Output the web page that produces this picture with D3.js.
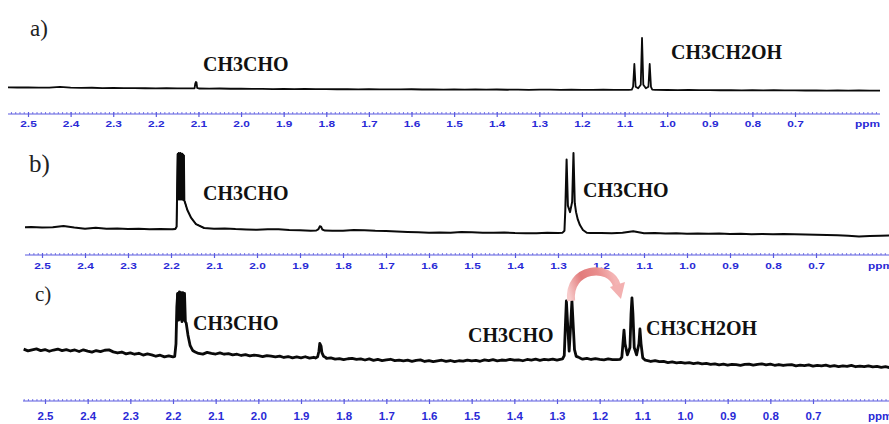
<!DOCTYPE html>
<html><head><meta charset="utf-8">
<script src="https://cdn.jsdelivr.net/npm/d3@7"></script>
<style>body{margin:0;background:#fff}svg{display:block}</style>
</head><body>
<svg id="chart" width="889" height="424"></svg>
<script>
// ppm axis ticks shared by all three spectra
const tickPpm = [2.5, 2.4, 2.3, 2.2, 2.1, 2.0, 1.9, 1.8, 1.7, 1.6, 1.5, 1.4, 1.3, 1.2, 1.1, 1.0, 0.9, 0.8, 0.7];
const tickLabels = ["2.5", "2.4", "2.3", "2.2", "2.1", "2.0", "1.9", "1.8", "1.7", "1.6", "1.5", "1.4", "1.3", "1.2", "1.1", "1.0", "0.9", "0.8", "0.7"];

// Spectrum a) — baseline sampled every 0.025 ppm from 2.55 ppm downward (relative intensity)
const baseStartA = 2.55, baseStepA = 0.025;
const baselineA = [7.0, 6.6, 6.8, 6.3, 6.5, 7.6, 6.2, 5.9, 6.1, 5.6, 5.8, 5.4, 5.6, 5.2, 5.0, 5.3, 4.9, 5.1, 4.6, 4.4,
  4.7, 4.2, 4.4, 3.9, 4.1, 3.7, 4.0, 3.6, 3.8, 3.4, 3.7, 3.3, 3.5, 3.1, 3.4, 3.0, 3.2, 2.9, 3.3, 2.8,
  3.0, 2.7, 3.1, 2.6, 2.9, 2.5, 2.8, 2.4, 2.7, 2.3, 2.6, 2.5, 2.2, 2.6, 2.3, 2.1, 2.4, 2.0, 2.2, 2.1,
  2.0, 2.1, 1.9, 1.6, 1.9, 1.5, 1.8, 1.4, 1.6, 1.2, 1.5, 1.1, 1.4, 1.0, 1.3, 0.9, 1.2, 0.8, 1.1, 0.7,
  1.0, 0.6, 0.8];
// acetaldehyde CH3 (weak) and ethanol CH3 triplet
const peakA_acetaldehyde = [[2.113, 4.8], [2.109, 5.2], [2.1075, 14], [2.106, 17], [2.1045, 16], [2.103, 6], [2.099, 4.7]];
const peakA_ethanol = [[1.090, 2.1], [1.083, 2.5], [1.080, 8], [1.077, 51], [1.074, 8], [1.068, 5], [1.062, 12], [1.059, 100],
  [1.056, 12], [1.050, 5], [1.044, 8], [1.041, 51], [1.038, 8], [1.035, 2.6], [1.028, 2.0]];

// Spectrum b)
const baseStartB = 2.55, baseStepB = 0.025;
const baselineB = [8.3, 8.6, 8.0, 8.4, 10.0, 8.1, 6.5, 7.8, 6.6, 6.9, 6.2, 6.5, 5.8, 6.1, 5.8, 6.0, 6.2, 6.5, 6.6, 6.9,
  6.1, 5.6, 5.3, 5.9, 5.8, 5.0, 4.6, 4.1, 4.4, 4.0, 4.1, 4.8, 4.6, 3.9, 3.7, 3.0, 2.5, 2.1, 1.6, 1.9,
  1.6, 2.4, 2.1, 1.5, 1.6, 1.9, 1.2, 1.0, 0.9, 1.4, 1.2, 1.2, 1.2, 1.3, 1.2, 1.0, 1.5, 3.5, 0.9, 1.1,
  0.6, 0.8, 0.4, 0.7, 0.2, 0.5, 0.0, 0.3, -0.2, 0.1, -0.4, 0.0, -0.3, -0.6, -0.9, -1.2, -1.6, -2.2, -3.0, -2.4,
  -2.1, -1.8, -1.6];
const peakB_ald1 = [[2.196, 5.9], [2.190, 6.2], [2.187, 9], [2.1855, 60], [2.184, 99], [2.183, 48], [2.182, 100], [2.181, 46],
  [2.180, 99], [2.179, 44], [2.178, 100], [2.177, 45], [2.176, 99], [2.175, 44], [2.174, 99], [2.173, 43], [2.172, 98],
  [2.171, 42], [2.170, 97], [2.169, 41], [2.168, 40], [2.162, 29.6], [2.153, 19.8], [2.142, 12.3], [2.123, 7.4]];
const peakB_minor = [[1.862, 4.3], [1.857, 6], [1.854, 9.5], [1.851, 9], [1.848, 5.5], [1.842, 4.2]];
const peakB_ald2 = [[1.300, 1.2], [1.290, 1.4], [1.285, 4], [1.283, 30], [1.280, 92], [1.277, 35], [1.272, 27], [1.267, 40],
  [1.264, 100], [1.261, 38], [1.258, 27], [1.254, 18], [1.249, 11], [1.242, 5], [1.233, 1.5]];

// Spectrum c) — noisier baseline, sampled every 0.01 ppm from 2.55 ppm downward
const baseStartC = 2.55, baseStepC = 0.01;
const baselineC = [
  22.8, 20.4, 21.9, 23.1, 20.8, 22.2, 19.9, 21.6, 22.9, 20.7,
  22.1, 20.3, 21.7, 19.6, 21.9, 20.2, 18.8, 20.9, 19.4, 21.3,
  21.8, 19.1, 17.6, 18.9, 16.4, 17.8, 15.9, 17.2, 14.8, 16.3,
  15.1, 13.2, 14.6, 12.4, 13.8, 11.6, 12.9, 11.5, 12.0, 14.0,
  15.5, 17.2, 16.1, 18.4, 17.0, 16.2, 17.8, 15.9, 16.8, 15.1,
  15.9, 14.2, 15.3, 13.7, 14.8, 13.9, 12.6, 14.1, 13.2, 12.4,
  13.4, 11.5, 12.8, 10.9, 12.2, 11.1, 12.5, 10.6, 11.8, 10.9,
  11.8, 10.2, 11.0, 9.4, 10.1, 8.6, 9.8, 10.4, 8.9, 9.5,
  8.1, 9.6, 7.6, 8.9, 7.4, 8.3, 9.1, 7.2, 8.0, 6.9,
  7.9, 6.3, 7.6, 8.2, 6.1, 7.3, 5.9, 7.0, 7.8, 6.2,
  7.4, 5.8, 7.1, 6.5, 8.0, 6.9, 7.7, 6.4, 8.3, 7.2,
  8.6, 7.0, 8.1, 7.5, 9.0, 7.8, 8.4, 7.1, 8.8, 8.0,
  9.2, 7.7, 8.9, 8.2, 9.4, 8.0, 8.6, 8.5, 8.5, 8.5,
  10.1, 9.2, 10.4, 8.8, 9.9, 9.0, 8.4, 9.6, 8.7, 9.3,
  8.2, 8.0, 7.5, 7.5, 7.0, 7.0, 7.6, 6.1, 7.2, 5.8,
  6.2, 4.7, 5.5, 4.1, 5.0, 3.8, 4.6, 3.3, 4.2, 2.9,
  3.5, 2.1, 3.0, 1.6, 2.6, 1.2, 2.3, 1.9, 0.9, 2.2,
  2.6, 1.1, 2.2, 2.9, 1.5, 2.4, 1.0, 2.0, 0.7, 1.6,
  1.8, 0.3, 1.2, 0.6, 1.5, -0.2, 0.9, 0.1, 1.1, -0.4,
  0.6, -0.8, 0.3, -0.5, 0.8, -1.0, -0.1, -0.9, 0.2, -1.3,
  -0.6, -1.9, -1.0, -2.3, -1.2, -1.8];
const peakC_ald1 = [[2.200, 12.3], [2.196, 13], [2.193, 30], [2.191, 80], [2.189, 98], [2.187, 62], [2.185, 100], [2.183, 64],
  [2.181, 99], [2.179, 60], [2.177, 99], [2.175, 62], [2.173, 98], [2.171, 60], [2.169, 58], [2.165, 42], [2.160, 28],
  [2.154, 21], [2.148, 19], [2.140, 17]];
const peakC_minor = [[1.866, 10.8], [1.861, 12.5], [1.858, 20], [1.856, 30.7], [1.853, 27], [1.851, 18], [1.847, 13], [1.842, 11.4]];
const peakC_ald2 = [[1.295, 8.6], [1.287, 9.5], [1.283, 14], [1.280, 60], [1.278, 88], [1.275, 55], [1.2715, 20], [1.268, 55],
  [1.265, 88], [1.262, 55], [1.259, 22], [1.255, 13], [1.250, 12], [1.245, 10.5]];
const peakC_ethanol = [[1.160, 8.5], [1.152, 9], [1.148, 12], [1.1455, 30], [1.143, 48.6], [1.1405, 30], [1.135, 15],
  [1.129, 25], [1.1265, 70], [1.1243, 92], [1.122, 70], [1.119, 25], [1.1135, 15], [1.108, 30], [1.1056, 50],
  [1.103, 30], [1.099, 11], [1.093, 7.8], [1.085, 7]];

// ---------------------------------------------------------------------------
const svg = d3.select('#chart');
const AXIS_LINE = '#5b5be0';
const AXIS_TEXT = '#2a2ad6';

// merge a sampled baseline with the resolved peak segments
function buildTrace(start, step, base, peaks) {
  const windows = peaks.map(p => [d3.min(p, d => d[0]), d3.max(p, d => d[0])]);
  const pts = [];
  base.forEach((v, i) => {
    const ppm = +(start - i * step).toFixed(4);
    if (!windows.some(w => ppm >= w[0] - 1e-9 && ppm <= w[1] + 1e-9)) pts.push([ppm, v]);
  });
  peaks.forEach(p => p.forEach(d => pts.push(d)));
  return pts.sort((a, b) => b[0] - a[0]);
}

const panels = [
  { label: 'a)', labelPos: [30, 36], labelSize: 23,
    trace: buildTrace(baseStartA, baseStepA, baselineA, [peakA_acetaldehyde, peakA_ethanol]),
    solid: [],
    tickRange: [28, 795], span: [8, 880], axisY: 114, labelOffset: 12.7, yRange: [91, 38], stroke: 1.8,
    tickFont: 9.5, stretch: 1.25, ppmPos: [880, 'end'],
    names: [['CH3CHO', 203, 70.5], ['CH3CH2OH', 671, 59]] },
  { label: 'b)', labelPos: [29, 172], labelSize: 25,
    trace: buildTrace(baseStartB, baseStepB, baselineB, [peakB_ald1, peakB_minor, peakB_ald2]),
    solid: [[peakB_ald1, 42]],
    tickRange: [42, 816], span: [25, 902], axisY: 255, labelOffset: 14.3, yRange: [234, 153], stroke: 2.0,
    tickFont: 9.5, stretch: 1.25, ppmPos: [868, 'start'],
    names: [['CH3CHO', 203, 200], ['CH3CHO', 583, 197]] },
  { label: 'c)', labelPos: [35, 301], labelSize: 21,
    trace: buildTrace(baseStartC, baseStepC, baselineC, [peakC_ald1, peakC_minor, peakC_ald2, peakC_ethanol]),
    solid: [[peakC_ald1, 62]],
    tickRange: [45, 813], span: [23, 898], axisY: 401, labelOffset: 19, yRange: [366, 292], stroke: 2.8,
    tickFont: 11.5, stretch: 1.0, ppmPos: [868, 'start'],
    names: [['CH3CHO', 193, 330], ['CH3CHO', 468, 342], ['CH3CH2OH', 646, 335]] }
];

const defs = svg.append('defs');
const scales = [];

panels.forEach((p, k) => {
  const x = d3.scaleLinear().domain([2.5, 0.7]).range(p.tickRange);
  const y = d3.scaleLinear().domain([0, 100]).range(p.yRange);
  scales.push({ x, y });
  const g = svg.append('g');
  const lo = x.invert(p.span[1]), hi = x.invert(p.span[0]);

  // axis: baseline rule, dense minor ticks, labelled major ticks
  const ax = g.append('g').attr('transform', `translate(0,${p.axisY})`);
  ax.append('line').attr('x1', p.span[0]).attr('x2', p.span[1])
    .attr('stroke', AXIS_LINE).attr('stroke-width', 1.2);
  const minor = d3.range(Math.ceil(lo * 100), Math.floor(hi * 100) + 1).map(d => d / 100);
  ax.append('g').call(d3.axisTop(x).tickValues(minor).tickSize(2).tickFormat(''))
    .call(s => s.select('.domain').remove())
    .selectAll('line').attr('stroke', AXIS_LINE).attr('stroke-width', 0.8);
  const major = ax.append('g').call(d3.axisBottom(x).tickValues(tickPpm).tickSize(3)
      .tickFormat((d, i) => tickLabels[i]))
    .call(s => s.select('.domain').remove());
  major.selectAll('line').attr('stroke', AXIS_LINE).attr('stroke-width', 1.2).attr('y1', -2);
  major.selectAll('text')
    .attr('y', p.labelOffset).attr('dy', null)
    .attr('fill', AXIS_TEXT)
    .attr('font-family', 'Liberation Sans, Arial, sans-serif')
    .attr('font-weight', 'bold')
    .attr('font-size', p.tickFont)
    .attr('transform', `scale(${p.stretch},1)`);
  ax.append('text').text('ppm')
    .attr('transform', `translate(${p.ppmPos[0]},${p.labelOffset}) scale(${p.stretch},1)`)
    .attr('text-anchor', p.ppmPos[1])
    .attr('fill', AXIS_TEXT)
    .attr('font-family', 'Liberation Sans, Arial, sans-serif')
    .attr('font-weight', 'bold')
    .attr('font-size', p.tickFont);

  // spectrum trace
  defs.append('clipPath').attr('id', 'clip' + k).append('rect')
    .attr('x', p.span[0]).attr('y', 0).attr('width', p.span[1] - p.span[0]).attr('height', 424);
  const line = d3.line().x(d => x(d[0])).y(d => y(d[1]));
  const trace = g.append('g').attr('clip-path', `url(#clip${k})`);
  // unresolved multiplets print as a solid black core: fill from the valley level up to the local envelope
  p.solid.forEach(([pk, floor]) => {
    const env = pk.map((d, i) => [d[0], d[1] < floor ? d[1]
      : Math.max(d[1], i > 0 ? pk[i - 1][1] : 0, i < pk.length - 1 ? pk[i + 1][1] : 0)]);
    trace.append('path').datum(env)
      .attr('d', d3.area().x(d => x(d[0])).y0(d => y(Math.min(d[1], floor))).y1(d => y(d[1])))
      .attr('fill', '#0a0a0a').attr('stroke', '#0a0a0a').attr('stroke-width', 1);
  });
  trace.append('path').datum(p.trace)
    .attr('d', line)
    .attr('fill', 'none')
    .attr('stroke', '#0a0a0a')
    .attr('stroke-width', p.stroke)
    .attr('stroke-linejoin', 'round');

  // panel letter and compound names
  g.append('text').text(p.label)
    .attr('x', p.labelPos[0]).attr('y', p.labelPos[1])
    .attr('font-family', 'Liberation Serif, Times New Roman, serif')
    .attr('font-size', p.labelSize).attr('fill', '#222');
  p.names.forEach(n => {
    g.append('text').text(n[0]).attr('x', n[1]).attr('y', n[2])
      .attr('font-family', 'Liberation Serif, Times New Roman, serif')
      .attr('font-weight', 'bold').attr('font-size', 20).attr('fill', '#111');
  });
});

// curved arrow in c): acetaldehyde CH3 doublet -> ethanol CH3 triplet
{
  const { x, y } = scales[2];
  const sx = x(1.2715) + 2, sy = y(88);
  const tx = x(1.1243) - 11, ty = y(92) + 1;
  const ex = tx - 4, ey = ty - 13;
  const grad = defs.append('linearGradient').attr('id', 'arrowGrad')
    .attr('gradientUnits', 'userSpaceOnUse')
    .attr('x1', sx).attr('y1', sy).attr('x2', ex).attr('y2', ey);
  grad.append('stop').attr('offset', '0%').attr('stop-color', '#f7caca');
  grad.append('stop').attr('offset', '35%').attr('stop-color', '#e27b7b');
  grad.append('stop').attr('offset', '70%').attr('stop-color', '#e98d8d');
  grad.append('stop').attr('offset', '100%').attr('stop-color', '#f4b4b4');
  svg.append('path')
    .attr('d', `M${sx},${sy} C${sx - 4},${sy - 34} ${ex - 6},${sy - 38} ${ex},${ey}`)
    .attr('fill', 'none').attr('stroke', 'url(#arrowGrad)').attr('stroke-width', 8);
  svg.append('path')
    .attr('d', `M${tx},${ty} L${tx - 11},${ty - 12} L${tx + 4},${ty - 17} Z`)
    .attr('fill', '#f3b0b0');
}
</script>
</body></html>
